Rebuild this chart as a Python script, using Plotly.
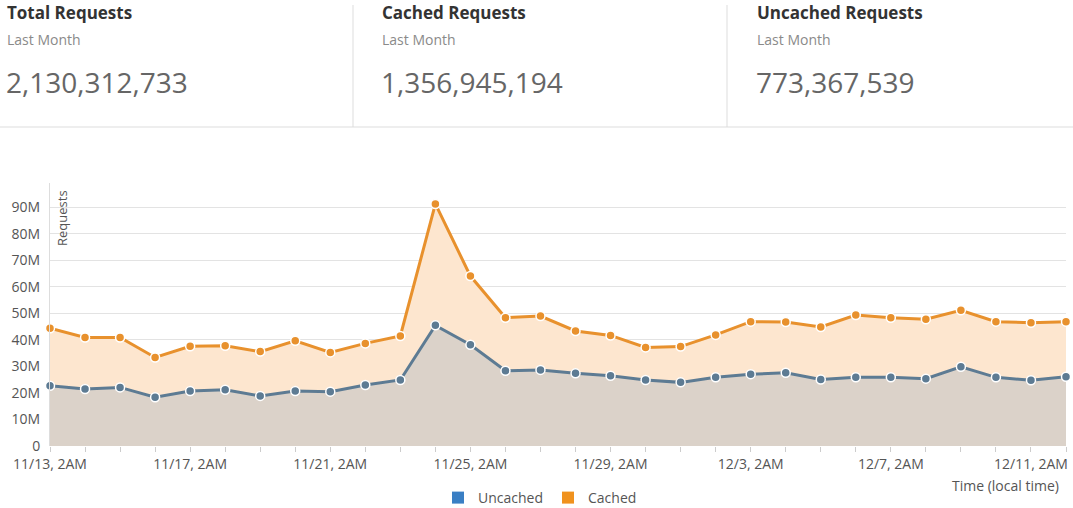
import plotly.graph_objects as go
import pandas as pd

# ---- data ----
dates = pd.date_range("2017-11-13 02:00", periods=30, freq="D")
cached = [44.4, 40.9, 40.9, 33.4, 37.6, 37.8, 35.6, 39.7, 35.3, 38.7,
          41.5, 91.3, 64.1, 48.4, 49.0, 43.4, 41.7, 37.2, 37.5, 41.9,
          46.9, 46.8, 44.9, 49.4, 48.4, 47.8, 51.2, 46.9, 46.5, 46.9]
uncached = [22.7, 21.5, 22.1, 18.4, 20.7, 21.2, 18.9, 20.7, 20.5, 23.0,
            24.9, 45.5, 38.2, 28.4, 28.7, 27.4, 26.5, 24.9, 24.0, 25.9,
            27.1, 27.6, 25.1, 25.9, 25.9, 25.4, 29.9, 25.9, 24.8, 26.1]
cached = [v * 1e6 for v in cached]
uncached = [v * 1e6 for v in uncached]

x_tick_vals = pd.date_range("2017-11-13 02:00", periods=8, freq="4D")
x_tick_text = ["11/13, 2AM", "11/17, 2AM", "11/21, 2AM", "11/25, 2AM",
               "11/29, 2AM", "12/3, 2AM", "12/7, 2AM", "12/11, 2AM"]
y_tick_vals = [0, 10e6, 20e6, 30e6, 40e6, 50e6, 60e6, 70e6, 80e6, 90e6]
y_tick_text = ["0", "10M", "20M", "30M", "40M", "50M", "60M", "70M", "80M", "90M"]

card_titles = ["Total Requests", "Cached Requests", "Uncached Requests"]
card_subtitle = "Last Month"
card_values = ["2,130,312,733", "1,356,945,194", "773,367,539"]

# ---- layout geometry (pixels) ----
W, H = 1073, 508
L, R, T, B = 50, 1066, 183, 446
pw, ph = R - L, B - T


def px(x):
    return (x - L) / pw


def py(y):
    return (B - y) / ph


def cx(x):
    return x / W


def cy(y):
    return (H - y) / H


FONT = "Open Sans"
ORANGE = "#e8912d"
SLATE = "#5d7b93"

fig = go.Figure()

fig.add_trace(go.Scatter(
    x=dates, y=cached, mode="lines+markers", name="Cached",
    line=dict(color=ORANGE, width=3),
    marker=dict(size=9, color=ORANGE, line=dict(color="white", width=1.5)),
    fill="tozeroy", fillcolor="#fde6cf", showlegend=False, cliponaxis=False,
))
fig.add_trace(go.Scatter(
    x=dates, y=uncached, mode="lines+markers", name="Uncached",
    line=dict(color=SLATE, width=3),
    marker=dict(size=9, color=SLATE, line=dict(color="white", width=1.5)),
    fill="tozeroy", fillcolor="#dbd2c9", showlegend=False, cliponaxis=False,
))
# legend swatches
fig.add_trace(go.Scatter(x=[None], y=[None], mode="markers", name="Uncached",
                         marker=dict(symbol="square", size=11, color="#3a7fc4")))
fig.add_trace(go.Scatter(x=[None], y=[None], mode="markers", name="Cached",
                         marker=dict(symbol="square", size=11, color="#f0921e")))

annotations = []
card_x = [5, 380, 755]
for x0, t, v in zip(card_x, card_titles, card_values):
    annotations.append(dict(text=t, x=px(x0), y=py(12), xref="paper", yref="paper",
                            xanchor="left", yanchor="middle", showarrow=False,
                            font=dict(family=FONT, size=17, color="#333333", weight="bold")))
    annotations.append(dict(text=card_subtitle, x=px(x0), y=py(40), xref="paper", yref="paper",
                            xanchor="left", yanchor="middle", showarrow=False,
                            font=dict(family=FONT, size=14, color="#8a8a8a")))
    annotations.append(dict(text=v, x=px(x0 - 1), y=py(82), xref="paper", yref="paper",
                            xanchor="left", yanchor="middle", showarrow=False,
                            font=dict(family=FONT, size=28, color="#666666")))

annotations.append(dict(text="Requests", x=px(62), y=py(188), xref="paper", yref="paper",
                        xanchor="center", yanchor="top",
                        textangle=-90, showarrow=False,
                        font=dict(family=FONT, size=13, color="#555555")))
annotations.append(dict(text="Time (local time)", x=px(1061), y=py(485), xref="paper", yref="paper",
                        xanchor="right", yanchor="middle", showarrow=False,
                        font=dict(family=FONT, size=14, color="#555555")))

shapes = [
    dict(type="line", xref="paper", yref="paper", x0=px(353), x1=px(353), y0=py(5), y1=py(127),
         line=dict(color="#dddddd", width=1)),
    dict(type="line", xref="paper", yref="paper", x0=px(727), x1=px(727), y0=py(5), y1=py(127),
         line=dict(color="#dddddd", width=1)),
    dict(type="line", xref="paper", yref="paper", x0=px(0), x1=px(W), y0=py(127), y1=py(127),
         line=dict(color="#dddddd", width=1)),
]

fig.update_layout(
    width=W, height=H,
    margin=dict(l=L, r=W - R, t=T, b=H - B, autoexpand=False),
    paper_bgcolor="white", plot_bgcolor="white",
    font=dict(family=FONT, size=14, color="#555555"),
    annotations=annotations, shapes=shapes,
    legend=dict(orientation="h", xref="container", yref="container",
                x=cx(540), xanchor="center", y=cy(498), yanchor="middle",
                font=dict(family=FONT, size=14, color="#555555"),
                itemsizing="constant", traceorder="normal"),
    hovermode=False,
)
fig.update_xaxes(
    range=[dates[0], dates[-1]],
    tickvals=x_tick_vals, ticktext=x_tick_text,
    ticks="outside", ticklen=5, tickcolor="#cccccc",
    minor=dict(ticks="outside", ticklen=5, tickcolor="#cccccc",
               tick0="2017-11-13 02:00", dtick=86400000),
    showgrid=False, showline=False, zeroline=False,
    tickfont=dict(family=FONT, size=14, color="#555555"),
)
fig.update_yaxes(
    range=[0, 99.2e6],
    tickvals=y_tick_vals, ticktext=y_tick_text,
    showgrid=True, gridcolor="#e3e3e3", gridwidth=1,
    showline=True, linecolor="#dddddd", linewidth=1,
    zeroline=False, ticks="", ticklabelstandoff=6,
    tickfont=dict(family=FONT, size=14, color="#555555"),
)

fig.write_html("out.html", config={"displayModeBar": False},
               post_script="document.body.style.margin='0';")
